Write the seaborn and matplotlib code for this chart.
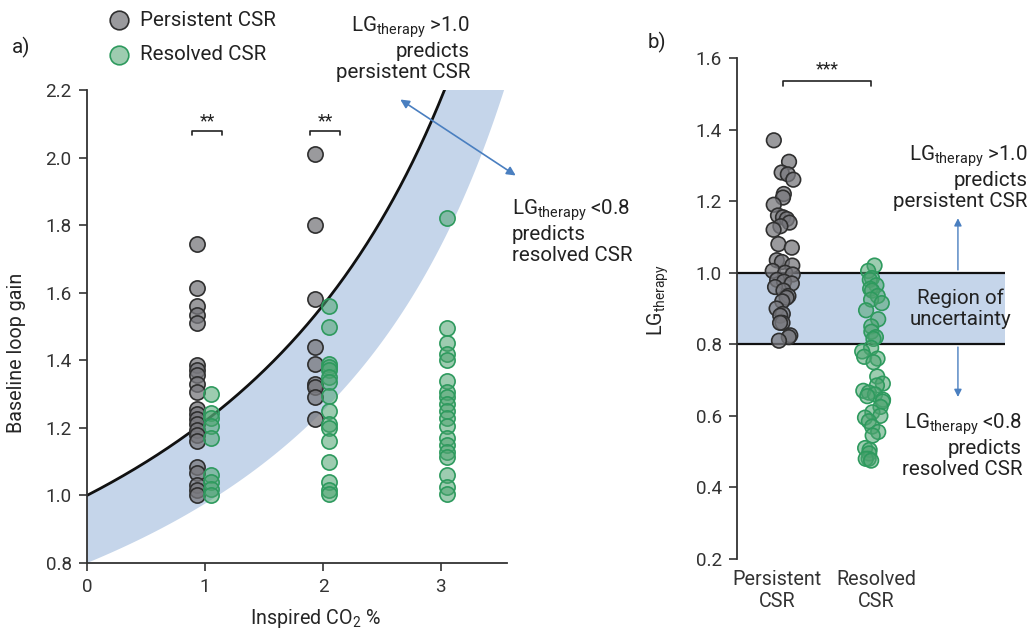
import numpy as np
import pandas as pd
import matplotlib
matplotlib.use("Agg")
import matplotlib.pyplot as plt
import matplotlib.transforms as mtrans
import seaborn as sns

# ---------------- data ----------------
# Panel a: baseline loop gain per inspired CO2 level
persistent_co2_1 = [1.745, 1.615, 1.56, 1.535, 1.51, 1.385, 1.37, 1.355, 1.33, 1.305,
                    1.255, 1.24, 1.225, 1.21, 1.195, 1.18, 1.16, 1.085, 1.065, 1.03,
                    1.015, 1.0]
resolved_co2_1 = [1.30, 1.245, 1.23, 1.205, 1.17, 1.06, 1.04, 1.02, 1.0]
persistent_co2_2 = [2.01, 1.80, 1.58, 1.44, 1.39, 1.33, 1.32, 1.29, 1.225]
resolved_co2_2 = [1.56, 1.50, 1.39, 1.38, 1.37, 1.35, 1.335, 1.295, 1.25, 1.21,
                  1.20, 1.16, 1.10, 1.04, 1.015, 1.005]
resolved_co2_3 = [1.82, 1.495, 1.45, 1.42, 1.40, 1.34, 1.305, 1.29, 1.27, 1.25,
                  1.23, 1.205, 1.17, 1.15, 1.13, 1.115, 1.06, 1.025, 1.005]

# model: LG_therapy = LG_baseline * (1 - k * CO2)
co2_gain_reduction = 0.18
threshold_high = 1.0
threshold_low = 0.8

# Panel b: LG_therapy
persistent_lgt = [1.37, 1.31, 1.28, 1.275, 1.26, 1.22, 1.21, 1.19, 1.16, 1.155,
                  1.15, 1.14, 1.13, 1.12, 1.08, 1.07, 1.035, 1.03, 1.02, 1.005,
                  1.0, 0.995, 0.98, 0.975, 0.97, 0.96, 0.95, 0.935, 0.93, 0.92,
                  0.90, 0.885, 0.88, 0.86, 0.86, 0.825, 0.82, 0.81]
resolved_lgt = [1.02, 1.005, 0.985, 0.98, 0.965, 0.955, 0.95, 0.935, 0.925, 0.915,
                0.895, 0.87, 0.85, 0.835, 0.82, 0.815, 0.79, 0.78, 0.765, 0.76,
                0.75, 0.71, 0.69, 0.685, 0.67, 0.665, 0.66, 0.655, 0.645, 0.64,
                0.625, 0.61, 0.60, 0.595, 0.585, 0.57, 0.555, 0.545, 0.51, 0.505,
                0.495, 0.48, 0.48, 0.475]

groups = ["Persistent CSR", "Resolved CSR"]
b_categories = ["Persistent\nCSR", "Resolved\nCSR"]

# ---------------- styling ----------------
sns.set_style("ticks")
plt.rcParams["font.family"] = ["Roboto", "DejaVu Sans"]
plt.rcParams["mathtext.fontset"] = "custom"
plt.rcParams["mathtext.rm"] = "Roboto"
plt.rcParams["mathtext.it"] = "Roboto"
plt.rcParams["axes.edgecolor"] = "#333333"
plt.rcParams["xtick.color"] = "#333333"
plt.rcParams["ytick.color"] = "#333333"
plt.rcParams["text.color"] = "#222222"

GRAY_FACE = (0.47, 0.47, 0.49, 0.75)
GRAY_EDGE = "#2f2f2f"
GREEN_FACE = (0.30, 0.64, 0.44, 0.55)
GREEN_EDGE = "#2e9a5e"
BAND = "#c5d5ea"
ARROW = "#4a7fc0"
FS = 14.8
AFS = 14.2
TFS = 13.6
MS = 120
LS = 1.12
LG = r"LG$\mathregular{_{therapy}}$"

fig = plt.figure(figsize=(10.31, 6.31), dpi=100)
W, H = 1031, 631
axA = fig.add_axes([87 / W, 1 - 563 / H, 420 / W, 473 / H])
axB = fig.add_axes([737 / W, 1 - 559 / H, 268 / W, 501 / H])

# ---------------- panel a ----------------
rows = []
for co2, vals, g in [(1, persistent_co2_1, groups[0]), (1, resolved_co2_1, groups[1]),
                     (2, persistent_co2_2, groups[0]), (2, resolved_co2_2, groups[1]),
                     (3, resolved_co2_3, groups[1])]:
    for v in vals:
        rows.append({"co2": co2, "lg": v, "group": g})
dfa = pd.DataFrame(rows)
dodge = {groups[0]: -0.07, groups[1]: 0.055}
dfa["xpos"] = dfa["co2"] + dfa["group"].map(dodge)

xs = np.linspace(0, 3.6, 400)
upper = threshold_high / (1 - co2_gain_reduction * xs)
lower = threshold_low / (1 - co2_gain_reduction * xs)
axA.fill_between(xs, lower, np.minimum(upper, 5), color=BAND, lw=0, zorder=1)
axA.plot(xs, upper, color="#111111", lw=2, zorder=2)

for g, fc, ec in [(groups[0], GRAY_FACE, GRAY_EDGE), (groups[1], GREEN_FACE, GREEN_EDGE)]:
    sub = dfa[dfa["group"] == g]
    sns.scatterplot(data=sub, x="xpos", y="lg", ax=axA, s=MS, color=fc,
                    edgecolor=ec, linewidth=1.2, legend=False, zorder=3)

axA.set_xlim(0, 3.56)
axA.set_ylim(0.8, 2.2)
axA.set_xticks([0, 1, 2, 3])
axA.set_yticks(np.arange(0.8, 2.21, 0.2))
axA.yaxis.set_major_formatter(matplotlib.ticker.FormatStrFormatter("%.1f"))
axA.tick_params(labelsize=TFS, length=6, width=1.2, pad=5)
for s in ["top", "right"]:
    axA.spines[s].set_visible(False)
for s in ["left", "bottom"]:
    axA.spines[s].set_linewidth(1.3)
axA.set_xlabel(r"Inspired CO$_2$ %", fontsize=AFS)
axA.set_ylabel("Baseline loop gain", fontsize=AFS)
axA.xaxis.set_label_coords(0.543, -0.092)
axA.yaxis.set_label_coords(-0.145, 0.445)

def bracket(ax, x0, x1, y, dy, label, ty):
    ax.plot([x0, x0, x1, x1], [y - dy, y, y, y - dy], color="#222222", lw=1.2,
            clip_on=False, zorder=4)
    ax.text((x0 + x1) / 2, ty, label, ha="center", va="center", fontsize=FS - 2)

bracket(axA, 0.89, 1.144, 2.079, 0.012, "**", 2.108)
bracket(axA, 1.89, 2.144, 2.079, 0.012, "**", 2.108)

fig.text(12 / W, 1 - 47 / H, "a)", fontsize=FS, va="center", ha="left")
# legend keys
for yy, fc, ec, lab in [(20, GRAY_FACE, GRAY_EDGE, groups[0]), (55, GREEN_FACE, GREEN_EDGE, groups[1])]:
    axA.scatter([119 / W], [1 - yy / H], s=MS * 1.5, color=fc, edgecolor=ec, lw=1.2,
                transform=fig.transFigure, clip_on=False)
    fig.text(140 / W, 1 - yy / H, lab, fontsize=FS, va="center", ha="left")

fig.text(470 / W, 1 - 48 / H, LG + " >1.0\npredicts\npersistent CSR", fontsize=FS,
         ha="right", va="center", linespacing=LS)
fig.text(512 / W, 1 - 231 / H, LG + " <0.8\npredicts\nresolved CSR", fontsize=FS,
         ha="left", va="center", linespacing=LS)
fig.add_artist(matplotlib.patches.FancyArrowPatch(
    (398 / W, 1 - 98 / H), (518 / W, 1 - 177 / H), transform=fig.transFigure,
    arrowstyle="<|-|>", mutation_scale=13, color=ARROW, lw=1.2))

# ---------------- panel b ----------------
dfb = pd.DataFrame({
    "cat": [b_categories[0]] * len(persistent_lgt) + [b_categories[1]] * len(resolved_lgt),
    "lgt": persistent_lgt + resolved_lgt,
})
axB.axhspan(threshold_low, threshold_high, color=BAND, lw=0, zorder=0)
axB.axhline(threshold_high, color="#111111", lw=1.6, zorder=1)
axB.axhline(threshold_low, color="#111111", lw=1.6, zorder=1)

np.random.seed(7)
sns.stripplot(data=dfb, x="cat", y="lgt", order=b_categories, hue="cat",
              palette={b_categories[0]: GRAY_FACE, b_categories[1]: GREEN_FACE},
              jitter=0.12, size=10.5, linewidth=1.2, ax=axB, legend=False, zorder=3)
for coll, ec in zip(axB.collections[-2:], [GRAY_EDGE, GREEN_EDGE]):
    coll.set_edgecolor(ec)

axB.set_xlim(-0.511, 2.467)
axB.set_ylim(0.2, 1.6)
axB.set_yticks(np.arange(0.2, 1.61, 0.2))
axB.yaxis.set_major_formatter(matplotlib.ticker.FormatStrFormatter("%.1f"))
axB.tick_params(axis="y", labelsize=TFS, length=6, width=1.2, pad=5)
axB.tick_params(axis="x", labelsize=AFS, length=0, pad=8)
for lab, dx in zip(axB.get_xticklabels(), [-6, 3]):
    lab.set_transform(lab.get_transform() + mtrans.ScaledTranslation(dx / 100, 0, fig.dpi_scale_trans))
for s in ["top", "right", "bottom"]:
    axB.spines[s].set_visible(False)
axB.spines["left"].set_linewidth(1.3)
axB.set_xlabel("")
axB.set_ylabel(LG, fontsize=AFS)
axB.yaxis.set_label_coords(-0.245, 0.517)

bracket(axB, 0.0, 0.98, 1.536, 0.014, "***", 1.568)
axB.text(1.967, 0.9, "Region of\nuncertainty", fontsize=FS, ha="center", va="center",
         linespacing=LS)
axB.annotate("", xy=(1.944, 1.16), xytext=(1.944, 1.0),
             arrowprops=dict(arrowstyle="-|>", color=ARROW, lw=1, mutation_scale=11))
axB.annotate("", xy=(1.944, 0.645), xytext=(1.944, 0.8),
             arrowprops=dict(arrowstyle="-|>", color=ARROW, lw=1, mutation_scale=11))
axB.text(2.72, 1.267, LG + " >1.0\npredicts\npersistent CSR", fontsize=FS, ha="right",
         va="center", linespacing=LS, clip_on=False)
axB.text(2.656, 0.5185, LG + " <0.8\npredicts\nresolved CSR", fontsize=FS, ha="right",
         va="center", linespacing=LS, clip_on=False)
fig.text(648 / W, 1 - 42 / H, "b)", fontsize=FS, va="center", ha="left")

fig.savefig("out.png", dpi=100)
